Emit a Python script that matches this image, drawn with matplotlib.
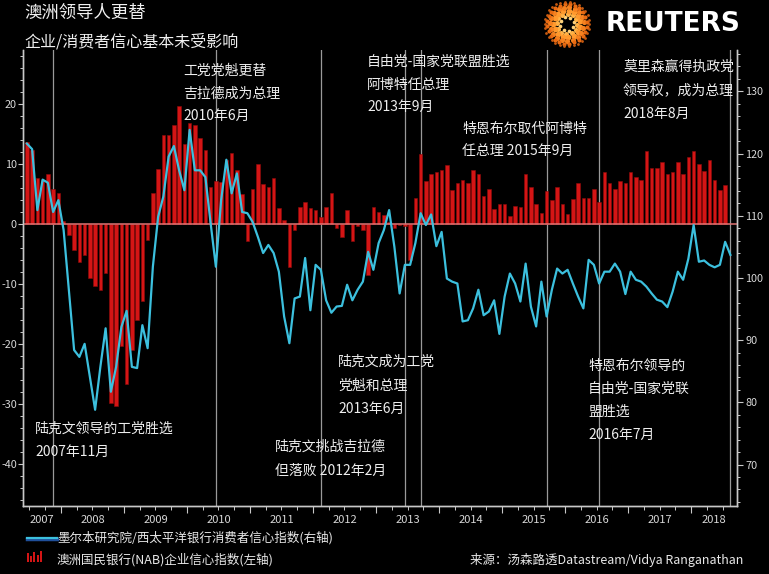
import matplotlib
matplotlib.use("Agg")
import matplotlib.pyplot as plt
from matplotlib.patches import Rectangle
from matplotlib.ticker import MultipleLocator
import numpy as np

plt.rcParams['font.family'] = ['Noto Sans CJK SC', 'DejaVu Sans']
plt.rcParams['axes.unicode_minus'] = False

W, H = 769, 574

# monthly data, first month = June 2007
start_year, start_month = 2007, 6

# NAB business confidence (left axis), Jun 2007 - Jul 2018
nab = [13.7, 12.4, 7.6, 7.3, 8.4, 5.9, 5.1, 0.5, -1.8, -4.3, -6.3, -5.2,
       -9.0, -10.4, -11.0, -8.2, -29.9, -30.4, -20.4, -26.6, -21.0, -16.0, -12.9, -2.7,
       5.1, 9.1, 14.8, 14.8, 16.5, 19.6, 13.4, 16.8, 16.5, 14.3, 12.3, 6.2,
       7.2, 7.0, 10.7, 11.9, 9.0, 5.0, -2.8, 5.9, 10.0, 6.7, 6.2, 7.6,
       2.6, 0.7, -7.1, -1.0, 2.9, 3.6, 2.6, 2.3, 1.2, 2.8, 5.1, -0.7,
       -2.1, 2.3, -2.8, -0.4, -1.0, -8.5, 2.9, 2.0, 1.5, 0.4, -0.6, -0.2,
       -0.3, -6.0, 4.4, 11.7, 7.2, 8.4, 8.7, 9.0, 9.8, 5.7, 6.9, 7.4,
       6.8, 9.0, 8.4, 4.6, 5.8, 2.5, 3.4, 3.4, 1.3, 3.0, 2.8, 8.3,
       6.2, 3.4, 1.9, 5.5, 4.0, 6.2, 3.4, 1.7, 4.1, 6.9, 4.4, 4.4,
       5.9, 3.7, 8.6, 6.8, 5.8, 7.2, 6.8, 8.6, 7.8, 7.4, 12.1, 9.3,
       9.3, 10.4, 8.4, 8.6, 10.4, 8.3, 11.2, 12.1, 10.0, 8.9, 10.7, 7.4,
       5.7, 6.5]

# Westpac-Melbourne Institute consumer sentiment (right axis), Jun 2007 - Aug 2018
consumer = [121.6, 120.7, 110.9, 115.8, 115.3, 110.6, 112.5, 107.7, 98.0, 88.4, 87.3, 89.4,
            84.1, 78.8, 85.7, 91.9, 81.7, 85.7, 92.1, 94.7, 85.7, 85.5, 92.4, 88.7,
            101.8, 109.8, 113.1, 119.5, 121.2, 117.3, 114.1, 123.8, 117.3, 117.3, 116.2, 108.8,
            101.8, 112.5, 119.0, 113.6, 116.8, 110.6, 110.4, 109.0, 106.6, 104.0, 105.3, 104.0,
            101.0, 93.8, 89.5, 96.7, 97.0, 103.2, 94.8, 102.1, 101.3, 96.4, 94.4, 95.4,
            95.5, 98.9, 96.4, 98.1, 99.4, 104.2, 101.3, 105.6, 107.7, 110.9, 105.0, 97.5,
            102.1, 102.1, 105.6, 110.4, 108.5, 110.2, 105.1, 107.4, 99.9, 99.4, 99.1, 93.0,
            93.2, 95.1, 98.1, 94.0, 94.6, 96.4, 91.0, 97.0, 100.7, 99.1, 96.2, 102.3,
            95.4, 92.2, 99.4, 93.8, 98.1, 101.5, 100.7, 101.3, 99.1, 97.0, 95.1, 102.9,
            102.1, 99.1, 101.0, 101.0, 102.3, 101.0, 97.4, 101.0, 99.7, 99.4, 98.6, 97.5,
            96.5, 96.2, 95.3, 97.8, 101.0, 99.7, 103.1, 108.5, 102.6, 102.8, 102.1, 101.7,
            102.1, 105.8, 103.7]

# leadership changes: (year, month)
event_dates = [(2007, 11), (2010, 6), (2012, 2), (2013, 6), (2013, 9),
               (2015, 9), (2016, 7), (2018, 8)]
event_labels = [
    ["陆克文领导的工党胜选", "2007年11月"],
    ["工党党魁更替", "吉拉德成为总理", "2010年6月"],
    ["陆克文挑战吉拉德", "但落败 2012年2月"],
    ["陆克文成为工党", "党魁和总理", "2013年6月"],
    ["自由党-国家党联盟胜选", "阿博特任总理", "2013年9月"],
    ["特恩布尔取代阿博特", "任总理 2015年9月"],
    ["特恩布尔领导的", "自由党-国家党联", "盟胜选", "2016年7月"],
    ["莫里森赢得执政党", "领导权，成为总理", "2018年8月"],
]
years = list(range(2007, 2019))


def month_x(y, m):
    return y + (m - 0.5) / 12.0


def idx_x(i):
    m0 = start_month - 1 + i
    return start_year + m0 // 12 + (m0 % 12 + 0.5) / 12.0


def fx(px):
    return px / W


def fy(py):
    return 1 - py / H


bar_x = [idx_x(i) for i in range(len(nab))]
line_x = [idx_x(i) for i in range(len(consumer))]

fig = plt.figure(figsize=(W / 100, H / 100), dpi=100, facecolor="black")
ax = fig.add_axes([fx(23), fy(506), fx(737) - fx(23), fy(50) - fy(506)])
ax.set_facecolor("black")
ax2 = ax.twinx()

x0, x1 = 2007.397, 2018.73
ax.set_xlim(x0, x1)
ax.set_ylim(-47, 29)
ax2.set_ylim(63.33, 136.64)

ax.bar(bar_x, nab, width=0.055, color="#d41515", edgecolor="#8e0a0a",
       linewidth=0.4, zorder=2)
ax.axhline(0, color="#e07373", lw=1.1, zorder=3)
for (y, m) in event_dates:
    ax.axvline(month_x(y, m), color="#9a9a9a", lw=0.9, zorder=1)
ax2.plot(line_x, consumer, color="#3cc0de", lw=1.6, zorder=4)

spine_c = "#c8c8c8"
for a in (ax, ax2):
    a.spines["top"].set_visible(False)
    for s in ("left", "right", "bottom"):
        a.spines[s].set_color(spine_c)
        a.spines[s].set_linewidth(1.0)

ax.yaxis.set_major_locator(MultipleLocator(10))
ax.yaxis.set_minor_locator(MultipleLocator(2))
ax2.yaxis.set_major_locator(MultipleLocator(10))
ax2.yaxis.set_minor_locator(MultipleLocator(2))
ax.tick_params(axis="y", colors=spine_c, labelcolor="#d8d8d8", labelsize=7.8,
               length=3.5, width=0.8, pad=1)
ax.tick_params(axis="y", which="minor", colors=spine_c, length=2.5, width=0.7)
ax2.tick_params(axis="y", colors=spine_c, labelcolor="#d8d8d8", labelsize=7.8,
                length=4, width=0.8, pad=2)
ax2.tick_params(axis="y", which="minor", colors=spine_c, length=2.5, width=0.7)

ax.set_xticks([y for y in years[1:]])
ax.set_xticks([y + q / 4 for y in years for q in range(4) if x0 < y + q / 4 < x1],
              minor=True)
ax.set_xticklabels([])
ax.tick_params(axis="x", which="major", colors=spine_c, length=5, width=0.8)
ax.tick_params(axis="x", which="minor", colors=spine_c, length=3, width=0.7)

for y in years:
    lo, hi = max(y, x0), min(y + 1, x1)
    ax.text((lo + hi) / 2, -14 / 456, str(y), transform=ax.get_xaxis_transform(),
            ha="center", va="center", color="#d8d8d8", fontsize=8)

# event annotations
label_pos = [(35, 429, 23), (183, 71, 22.5), (275, 447, 24), (338, 362, 23.5),
             (367, 62, 22.5), (462, 129, 23), (588, 366, 23), (623, 67, 23.5)]
for lines, (px, py, step) in zip(event_labels, label_pos):
    for j, t in enumerate(lines):
        fig.text(fx(px), fy(py + j * step), t, color="#eeeeee", fontsize=10,
                 ha="left", va="center")

# titles
fig.text(fx(24), fy(13), "澳洲领导人更替", color="#f0f0f0", fontsize=12.5,
         ha="left", va="center")
fig.text(fx(24), fy(42), "企业/消费者信心基本未受影响", color="#f0f0f0", fontsize=11.5,
         ha="left", va="center")

# Reuters logo
lax = fig.add_axes([fx(543), fy(48), fx(48), fy(0) - fy(48)])
lax.set_xlim(-1.1, 1.1)
lax.set_ylim(-1.1, 1.1)
lax.set_aspect("equal")
lax.axis("off")
rings = [(0.32, 8, 7, "#ffd27a"), (0.47, 12, 13, "#ffb347"), (0.62, 15, 17, "#ff9a2e"),
         (0.77, 19, 14, "#f58220"), (0.91, 24, 9, "#e86a12"), (1.03, 30, 4, "#c85a10")]
for r, n, s, c in rings:
    th = np.linspace(0, 2 * np.pi, n, endpoint=False) + r
    lax.scatter(r * np.cos(th), r * np.sin(th), s=s, color=c, lw=0)
fig.text(fx(606), fy(24), "REUTERS", color="white", fontsize=19,
         fontweight="bold", family=["DejaVu Sans"], ha="left", va="center")

# legend
fig.add_artist(plt.Line2D([fx(27), fx(57)], [fy(539), fy(539)], color="#1f4f9a", lw=2.5))
fig.add_artist(plt.Line2D([fx(27), fx(57)], [fy(538), fy(538)], color="#3cc0de", lw=1.6))
fig.text(fx(57), fy(538), "墨尔本研究院/西太平洋银行消费者信心指数(右轴)",
         color="#e8e8e8", fontsize=9, ha="left", va="center")
for k, h in enumerate([9, 6, 10, 7, 11]):
    fig.add_artist(Rectangle((fx(27 + k * 3.2), fy(562)), fx(2), h / H,
                             color="#d41515", lw=0))
fig.text(fx(57), fy(560), "澳洲国民银行(NAB)企业信心指数(左轴)",
         color="#e8e8e8", fontsize=9, ha="left", va="center")
fig.text(fx(743), fy(560), "来源：汤森路透Datastream/Vidya Ranganathan",
         color="#e8e8e8", fontsize=9, ha="right", va="center")

fig.savefig("out.png", dpi=100, facecolor="black")
